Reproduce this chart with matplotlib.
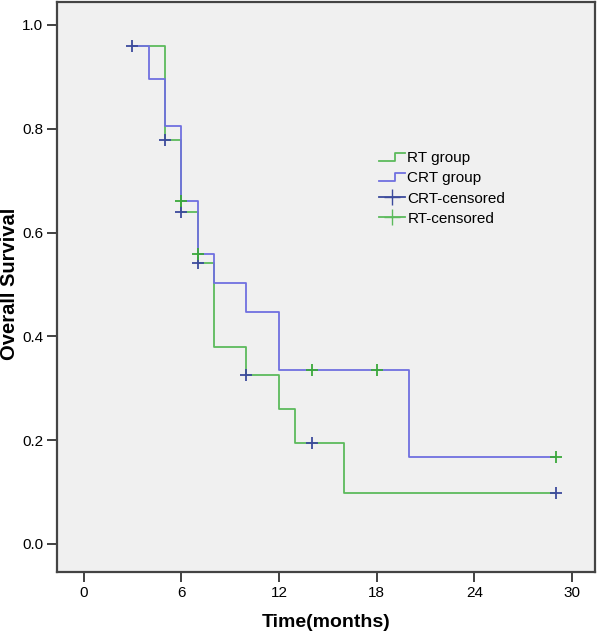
import matplotlib
matplotlib.use("Agg")
import matplotlib.pyplot as plt
from matplotlib.lines import Line2D
from matplotlib.legend_handler import HandlerBase

# RT group step curve (months, survival)
rt_time = [3, 5, 6, 7, 8, 10, 12, 13, 16, 29]
rt_surv = [0.96, 0.778, 0.640, 0.542, 0.380, 0.326, 0.261, 0.195, 0.098, 0.098]
# CRT group step curve
crt_time = [3, 4, 5, 6, 7, 8, 10, 12, 20, 29]
crt_surv = [0.96, 0.896, 0.806, 0.661, 0.559, 0.503, 0.447, 0.335, 0.168, 0.168]

# censor marks as drawn in the original
crt_cens_time = [3, 5, 6, 7, 10, 14, 29]
crt_cens_surv = [0.96, 0.778, 0.640, 0.542, 0.326, 0.195, 0.098]
rt_cens_time = [6, 7, 14, 18, 29]
rt_cens_surv = [0.661, 0.559, 0.335, 0.335, 0.168]

x_ticks = [0, 6, 12, 18, 24, 30]
y_ticks = [0.0, 0.2, 0.4, 0.6, 0.8, 1.0]

green = "#5cba5c"
blue = "#7070e0"
green_mark = "#3aa83a"
blue_mark = "#3c4a9c"


class StepHandler(HandlerBase):
    # little step shape used by SPSS for the survival lines
    def create_artists(self, legend, orig_handle, xdescent, ydescent,
                       width, height, fontsize, trans):
        x0, x1 = -xdescent, -xdescent + width
        xm = x0 + 0.6 * width
        y0, y1 = -ydescent + 0.15 * height, -ydescent + 0.85 * height
        line = Line2D([x0, xm, xm, x1], [y0, y0, y1, y1],
                      color=orig_handle.get_color(), lw=orig_handle.get_linewidth())
        line.set_transform(trans)
        return [line]


plt.rcParams["font.family"] = ["Liberation Sans", "DejaVu Sans"]

fig = plt.figure(figsize=(6, 6.36), dpi=100)
ax = fig.add_axes([0.095, 0.1006, 0.897, 0.896])
ax.set_facecolor("#f0f0f0")

rt_line, = ax.step(rt_time, rt_surv, where="post", color=green, lw=1.3)
crt_line, = ax.step(crt_time, crt_surv, where="post", color=blue, lw=1.3)
ax.plot(crt_cens_time, crt_cens_surv, ls="none", marker="+", ms=8, mew=1.3, color=blue_mark)
ax.plot(rt_cens_time, rt_cens_surv, ls="none", marker="+", ms=8, mew=1.3, color=green_mark)

ax.set_xlim(-1.63, 31.42)
ax.set_ylim(-0.054, 1.044)
ax.set_xticks(x_ticks)
ax.set_yticks(y_ticks)
ax.set_yticklabels([f"{v:.1f}" for v in y_ticks])
ax.tick_params(labelsize=11, length=7, width=1.3, color="#333333", pad=3)

for s in ax.spines.values():
    s.set_linewidth(1.6)
    s.set_color("#444444")

ax.set_xlabel("Time(months)", fontsize=14, fontweight="bold", labelpad=10)
ax.set_ylabel("Overall Survival", fontsize=14.5, fontweight="bold")
ax.yaxis.set_label_coords(-0.071, 0.505)

handles = [
    rt_line,
    crt_line,
    Line2D([0], [0], color=blue_mark, lw=1.3, marker="+", ms=11),
    Line2D([0], [0], color=green, lw=1.3, marker="+", ms=11),
]
labels = ["RT group", "CRT group", "CRT-censored", "RT-censored"]
ax.legend(handles, labels, loc="upper left", bbox_to_anchor=(0.587, 0.749),
          frameon=False, fontsize=11, handlelength=1.7, handletextpad=0.15,
          labelspacing=0.4, borderaxespad=0,
          handler_map={rt_line: StepHandler(), crt_line: StepHandler()})

fig.savefig("out.png", dpi=100, facecolor="white")
